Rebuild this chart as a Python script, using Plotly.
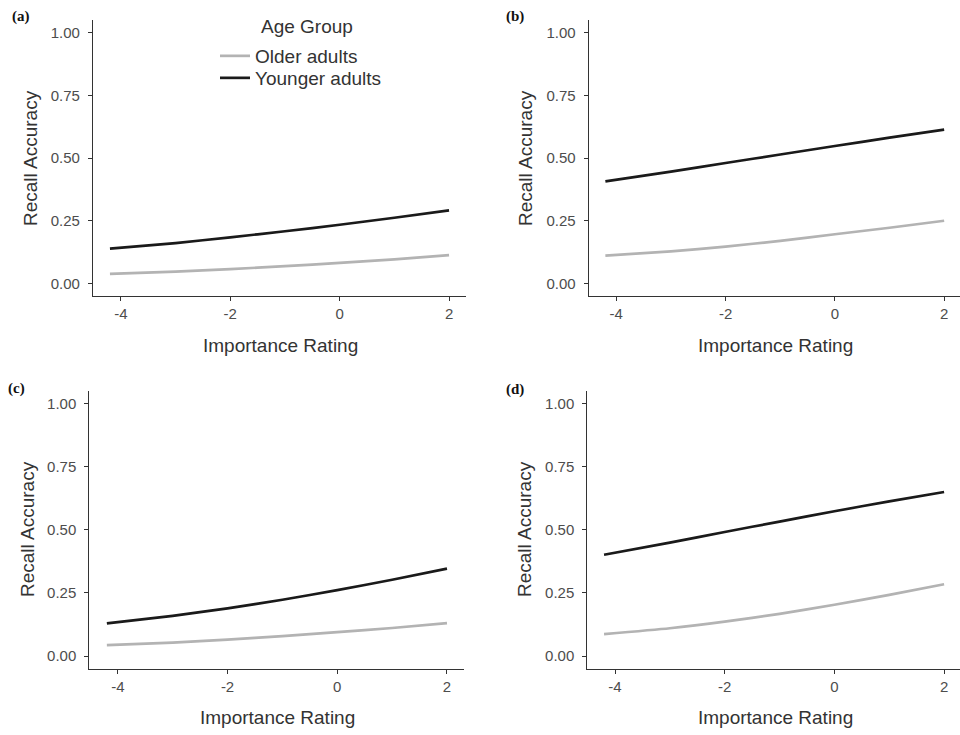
import plotly.graph_objects as go

# ---------------- data ----------------
x_rating = [-4.2, -3, -2, -1, 0, 1, 2]

a_older = [0.038, 0.047, 0.057, 0.069, 0.082, 0.096, 0.113]
a_younger = [0.139, 0.161, 0.184, 0.208, 0.234, 0.262, 0.291]
b_older = [0.111, 0.128, 0.147, 0.170, 0.196, 0.222, 0.250]
b_younger = [0.407, 0.446, 0.480, 0.514, 0.548, 0.581, 0.613]
c_older = [0.043, 0.053, 0.065, 0.079, 0.095, 0.111, 0.130]
c_younger = [0.129, 0.159, 0.189, 0.223, 0.261, 0.302, 0.346]
d_older = [0.087, 0.110, 0.136, 0.167, 0.203, 0.242, 0.284]
d_younger = [0.401, 0.449, 0.491, 0.532, 0.573, 0.612, 0.649]

series_names = ["Older adults", "Younger adults"]
panel_labels = ["(a)", "(b)", "(c)", "(d)"]
x_tickvals = [-4, -2, 0, 2]
x_ticktext = ["-4", "-2", "0", "2"]
y_tickvals = [0, 0.25, 0.5, 0.75, 1.0]
y_ticktext = ["0.00", "0.25", "0.50", "0.75", "1.00"]
x_title = "Importance Rating"
y_title = "Recall Accuracy"
legend_title = "Age Group"

panels = [(a_older, a_younger), (b_older, b_younger),
          (c_older, c_younger), (d_older, d_younger)]

# ---------------- layout geometry ----------------
W, H = 960, 735
colors = ["#b3b3b3", "#1a1a1a"]
FONT = "Liberation Sans, Arial, Helvetica, sans-serif"

# pixel boxes: (left, right, top, bottom)
boxes = [(93, 466, 20, 296), (588.7, 960, 20, 296),
         (89.3, 464, 390.7, 668.7), (587.3, 960, 390.7, 668.7)]
x_ranges = [[-4.51, 2.31], [-4.505, 2.29], [-4.52, 2.31], [-4.505, 2.29]]

fig = go.Figure()

legend_ids = ["legend", "legend2"]
for i, (older, younger) in enumerate(panels):
    sfx = "" if i == 0 else str(i + 1)
    for j, ys in enumerate([older, younger]):
        fig.add_trace(go.Scatter(
            x=x_rating, y=ys, mode="lines",
            line=dict(color=colors[j], width=2.7, shape="spline", smoothing=0.6),
            name=series_names[j], showlegend=(i == 0), legend=legend_ids[j],
            xaxis="x" + sfx, yaxis="y" + sfx, hoverinfo="skip"))

legend_common = dict(
    xanchor="left", yanchor="middle",
    bgcolor="rgba(0,0,0,0)", borderwidth=0,
    font=dict(size=19, color="#333", family=FONT),
    itemwidth=30, tracegroupgap=0)

layout = dict(
    width=W, height=H, margin=dict(l=0, r=0, t=0, b=0),
    paper_bgcolor="white", plot_bgcolor="white",
    font=dict(family=FONT, color="#222"),
    legend=dict(x=215 / W, y=1 - 56 / H, **legend_common),
    legend2=dict(x=215 / W, y=1 - 78 / H, **legend_common),
)

annotations = []
for i, (l, r, t, b) in enumerate(boxes):
    sfx = "" if i == 0 else str(i + 1)
    layout["xaxis" + sfx] = dict(
        domain=[l / W, min(r / W, 1.0)], range=x_ranges[i],
        anchor="y" + sfx, showgrid=False, zeroline=False,
        showline=True, linecolor="#333", linewidth=1.1,
        ticks="outside", ticklen=4, tickcolor="#333", tickwidth=1.1,
        tickvals=x_tickvals, ticktext=x_ticktext,
        tickfont=dict(size=15, color="#4d4d4d", family=FONT))
    layout["yaxis" + sfx] = dict(
        domain=[1 - b / H, 1 - t / H], range=[-0.05, 1.05],
        anchor="x" + sfx, showgrid=False, zeroline=False,
        showline=True, linecolor="#333", linewidth=1.1,
        ticks="outside", ticklen=4, tickcolor="#333", tickwidth=1.1,
        ticklabelstandoff=5,
        tickvals=y_tickvals, ticktext=y_ticktext,
        tickfont=dict(size=15, color="#4d4d4d", family=FONT))

# legend title
annotations.append(dict(text=legend_title, x=307 / W, y=1 - 27 / H, xref="paper", yref="paper",
                        xanchor="center", yanchor="middle", showarrow=False,
                        font=dict(size=19, color="#333", family=FONT)))

# axis titles and panel labels (pixel positions)
ytitle_pos = [(30, 158), (525, 158), (27, 529), (524, 529)]
xtitle_pos = [(280, 345), (775, 345), (277, 717), (775, 717)]
label_pos = [(21, 17), (515, 17), (16, 388), (515, 389)]
for i in range(4):
    xp, yp = ytitle_pos[i]
    annotations.append(dict(text=y_title, x=xp / W, y=1 - yp / H, xref="paper", yref="paper",
                            xanchor="center", yanchor="middle", showarrow=False, textangle=-90,
                            font=dict(size=19, color="#333", family=FONT)))
    xp, yp = xtitle_pos[i]
    annotations.append(dict(text=x_title, x=xp / W, y=1 - yp / H, xref="paper", yref="paper",
                            xanchor="center", yanchor="middle", showarrow=False,
                            font=dict(size=19, color="#333", family=FONT)))
    xp, yp = label_pos[i]
    annotations.append(dict(text="<b>" + panel_labels[i] + "</b>", x=xp / W, y=1 - yp / H,
                            xref="paper", yref="paper", xanchor="center", yanchor="middle",
                            showarrow=False,
                            font=dict(size=15, color="#111", family="Liberation Serif, Times New Roman, serif")))
layout["annotations"] = annotations

fig.update_layout(**layout)
fig.write_html("out.html", config={"displayModeBar": False},
               post_script="document.body.style.margin='0';document.body.style.padding='0';")
